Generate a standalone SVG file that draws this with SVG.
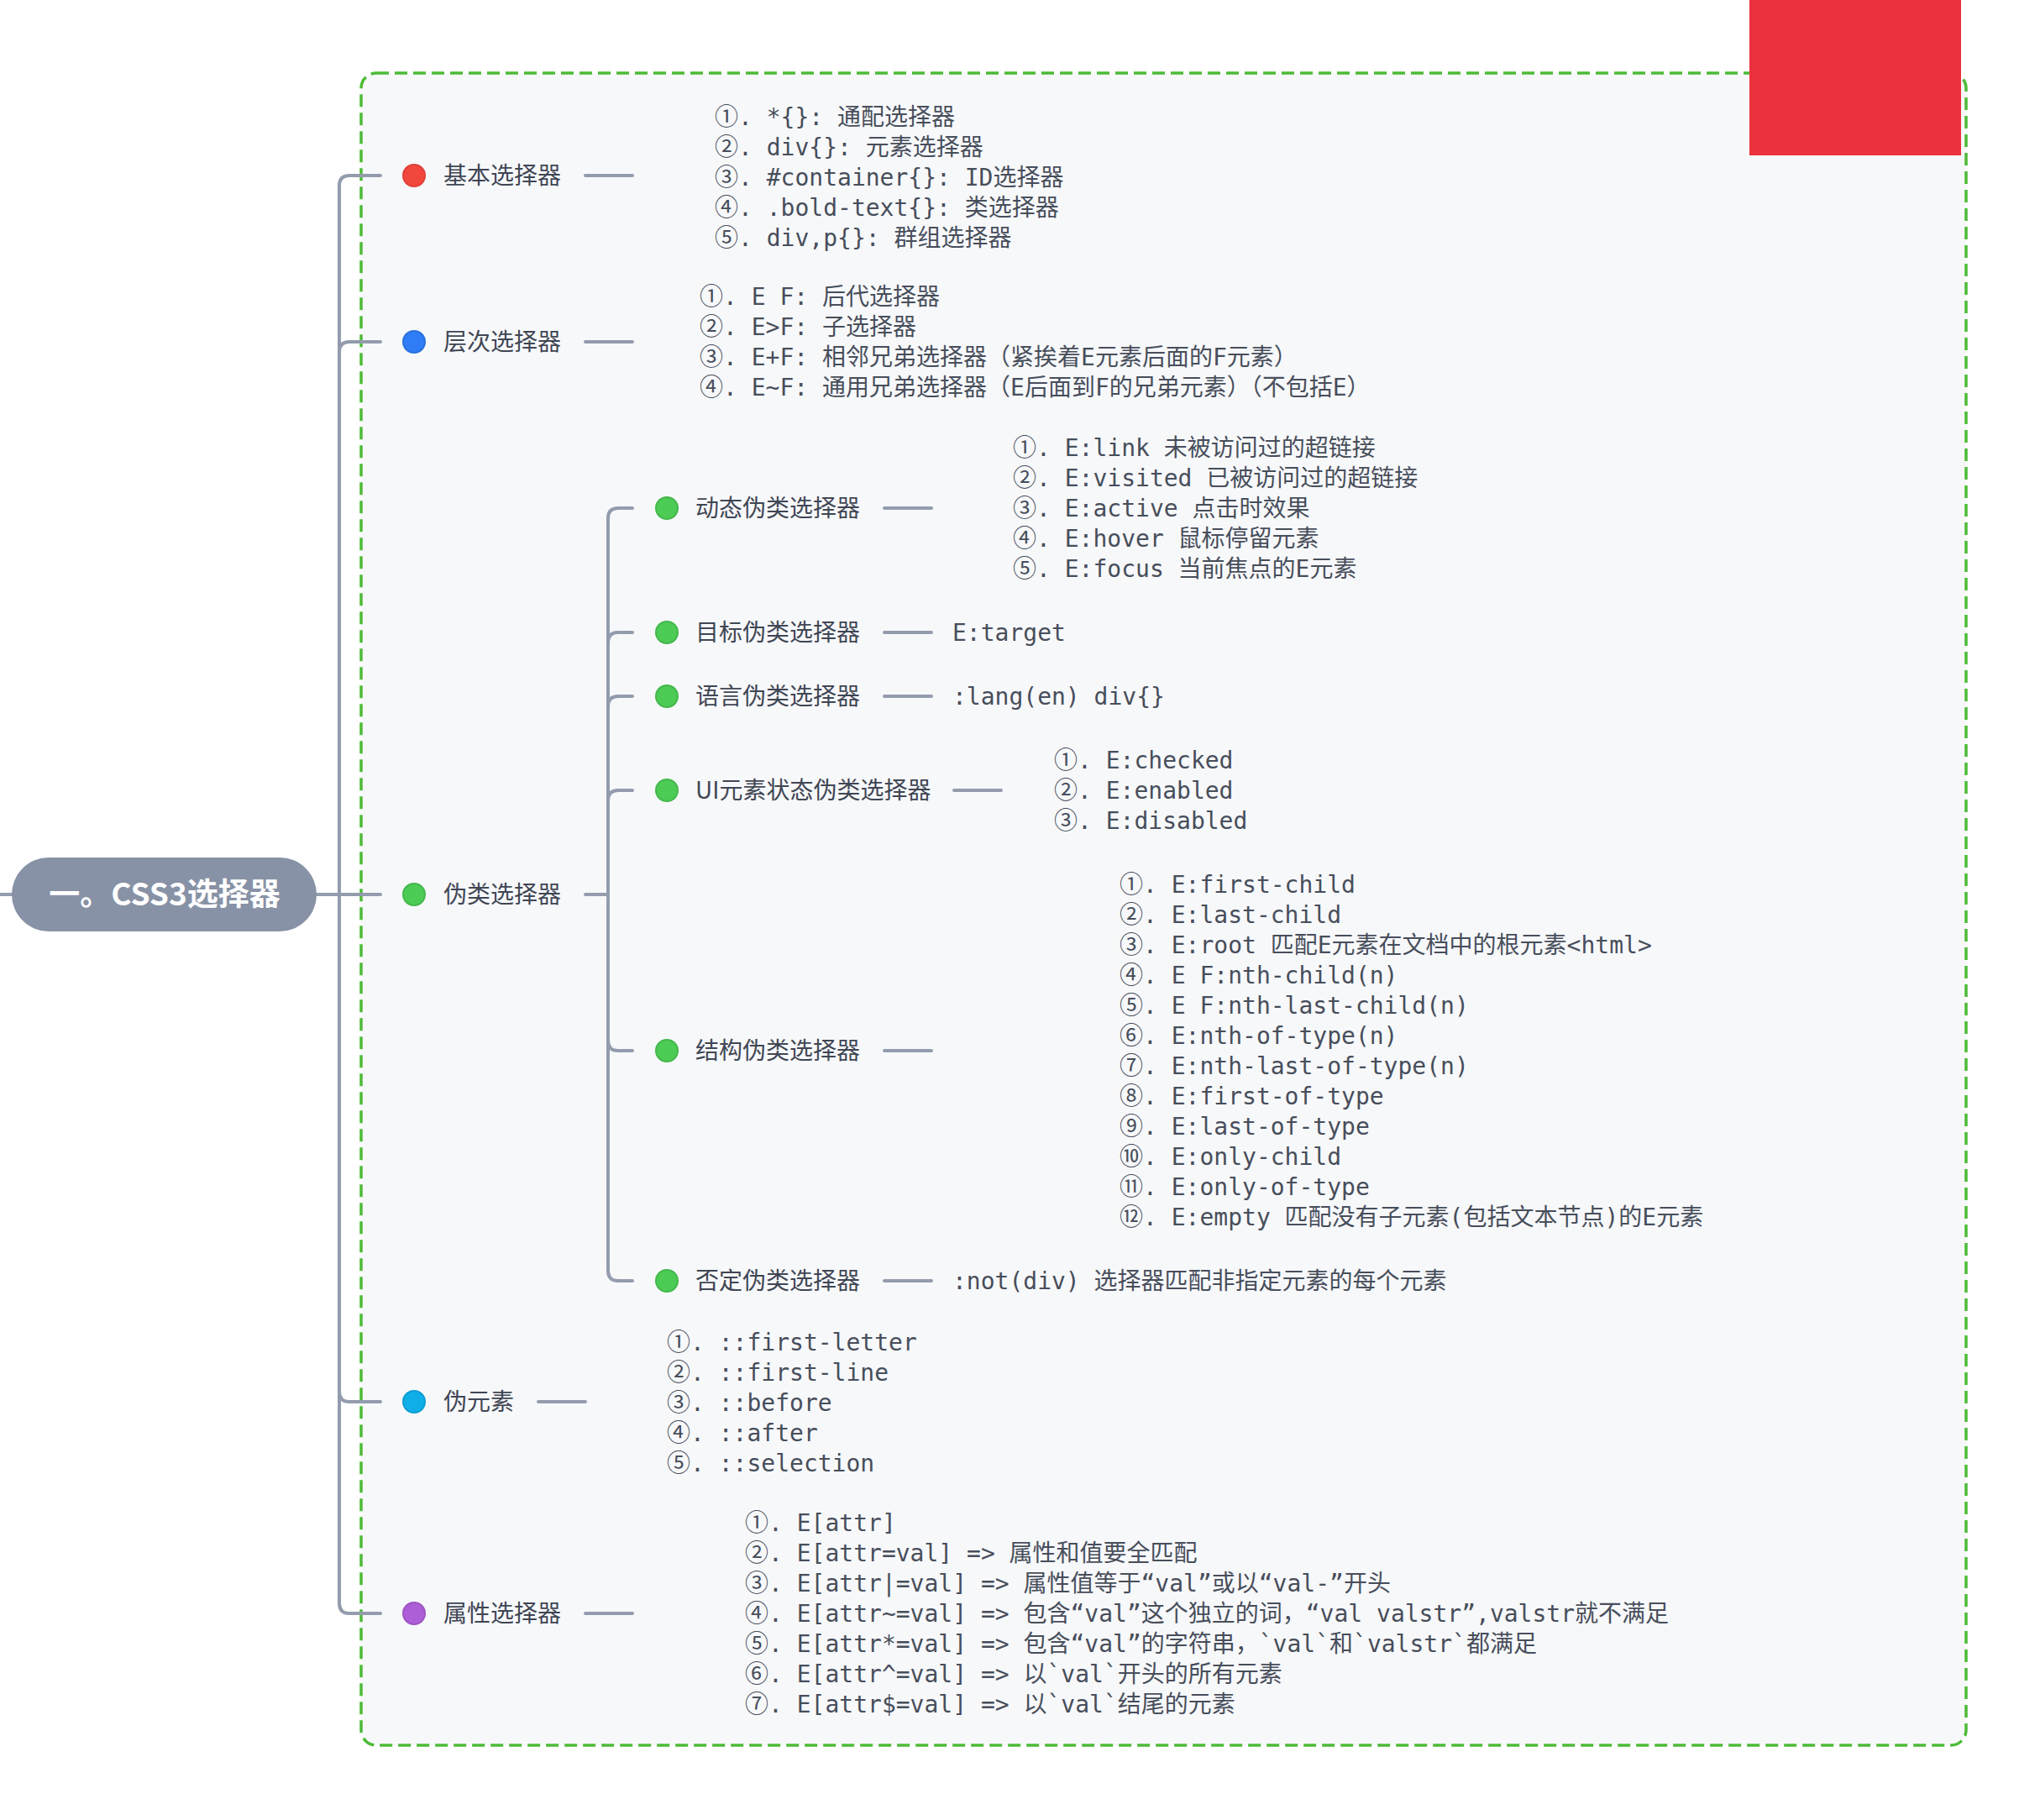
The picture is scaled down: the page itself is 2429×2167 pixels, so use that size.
<svg xmlns="http://www.w3.org/2000/svg" width="2429" height="2167" viewBox="0 0 2429 2167">
<style>
.bg{fill:#FFFFFF}
.box{fill:#F7F8FA;stroke:#4DBB37;stroke-width:3.5;stroke-dasharray:15 7}
.ln{fill:none;stroke:#939CAD;stroke-width:4;stroke-linecap:round;stroke-linejoin:round}
.lbl{font-family:"Noto Sans CJK SC","Noto Sans",sans-serif;font-size:28px;fill:#3F4654}
.it{font-family:"DejaVu Sans Mono","Noto Sans CJK SC",monospace;font-size:28px;fill:#474E5B}
.n{font-family:"Noto Sans CJK SC",sans-serif}
.root{fill:#8892A6}
.rt{font-family:"Noto Sans CJK SC","Noto Sans",sans-serif;font-size:37px;font-weight:bold;fill:#FFFFFF}
.red{fill:#F2473D;stroke:#E0403A;stroke-width:2}
.blue{fill:#2F7DF6;stroke:#2A70DD;stroke-width:2}
.green{fill:#4CCB55;stroke:#44B84C;stroke-width:2}
.cyan{fill:#0FAEE8;stroke:#0E9ED2;stroke-width:2}
.purple{fill:#AD5FD8;stroke:#9C55C3;stroke-width:2}
</style>
<rect class="bg" x="0" y="0" width="2429" height="2167"/>
<rect class="box" x="430" y="87" width="1911" height="1991" rx="18"/>

<g id="connectors">
<path class="ln" d="M0 1065 H14"/>
<path class="ln" d="M377 1065 H453"/>
<path class="ln" d="M453 209 H416 Q404 209 404 221 V1909 Q404 1921 416 1921 H453"/>
<path class="ln" d="M404 419 Q404 407 416 407 H453"/>
<path class="ln" d="M404 1657 Q404 1669 416 1669 H453"/>
<path class="ln" d="M697 209 H753"/>
<path class="ln" d="M697 407 H753"/>
<path class="ln" d="M697 1065 H724"/>
<path class="ln" d="M641 1669 H697"/>
<path class="ln" d="M697 1921 H753"/>
<path class="ln" d="M753 605 H736 Q724 605 724 617 V1513 Q724 1525 736 1525 H753"/>
<path class="ln" d="M724 765 Q724 753 736 753 H753"/>
<path class="ln" d="M724 841 Q724 829 736 829 H753"/>
<path class="ln" d="M724 953 Q724 941 736 941 H753"/>
<path class="ln" d="M724 1239 Q724 1251 736 1251 H753"/>
<path class="ln" d="M1053 605 H1109"/>
<path class="ln" d="M1053 753 H1109"/>
<path class="ln" d="M1053 829 H1109"/>
<path class="ln" d="M1136 941 H1192"/>
<path class="ln" d="M1053 1251 H1109"/>
<path class="ln" d="M1053 1525 H1109"/>
</g>

<g id="node-root">
<rect class="root" x="14" y="1021" width="363" height="88" rx="44"/>
<text class="rt" x="196" y="1078" text-anchor="middle">一。CSS3选择器</text>
</g>

<g id="node-basic">
<circle class="red" cx="493" cy="209" r="13"/>
<text class="lbl" x="528" y="219">基本选择器</text>
</g>
<g id="node-basic-items">
<text class="it"><tspan x="851" y="149"><tspan class="n">①</tspan>. *{}: 通配选择器</tspan><tspan x="851" y="185"><tspan class="n">②</tspan>. div{}: 元素选择器</tspan><tspan x="851" y="221"><tspan class="n">③</tspan>. #container{}: ID选择器</tspan><tspan x="851" y="257"><tspan class="n">④</tspan>. .bold-text{}: 类选择器</tspan><tspan x="851" y="293"><tspan class="n">⑤</tspan>. div,p{}: 群组选择器</tspan></text>
</g>

<g id="node-level">
<circle class="blue" cx="493" cy="407" r="13"/>
<text class="lbl" x="528" y="417">层次选择器</text>
</g>
<g id="node-level-items">
<text class="it"><tspan x="833" y="363"><tspan class="n">①</tspan>. E F: 后代选择器</tspan><tspan x="833" y="399"><tspan class="n">②</tspan>. E&gt;F: 子选择器</tspan><tspan x="833" y="435"><tspan class="n">③</tspan>. E+F: 相邻兄弟选择器（紧挨着E元素后面的F元素）</tspan><tspan x="833" y="471"><tspan class="n">④</tspan>. E~F: 通用兄弟选择器（E后面到F的兄弟元素）（不包括E）</tspan></text>
</g>

<g id="node-pseudo-class">
<circle class="green" cx="493" cy="1065" r="13"/>
<text class="lbl" x="528" y="1075">伪类选择器</text>
</g>

<g id="node-dynamic">
<circle class="green" cx="794" cy="605" r="13"/>
<text class="lbl" x="828" y="615">动态伪类选择器</text>
</g>
<g id="node-dynamic-items">
<text class="it"><tspan x="1206" y="543"><tspan class="n">①</tspan>. E:link 未被访问过的超链接</tspan><tspan x="1206" y="579"><tspan class="n">②</tspan>. E:visited 已被访问过的超链接</tspan><tspan x="1206" y="615"><tspan class="n">③</tspan>. E:active 点击时效果</tspan><tspan x="1206" y="651"><tspan class="n">④</tspan>. E:hover 鼠标停留元素</tspan><tspan x="1206" y="687"><tspan class="n">⑤</tspan>. E:focus 当前焦点的E元素</tspan></text>
</g>

<g id="node-target">
<circle class="green" cx="794" cy="753" r="13"/>
<text class="lbl" x="828" y="763">目标伪类选择器</text>
</g>
<g id="node-target-items">
<text class="it" x="1134" y="763">E:target</text>
</g>

<g id="node-lang">
<circle class="green" cx="794" cy="829" r="13"/>
<text class="lbl" x="828" y="839">语言伪类选择器</text>
</g>
<g id="node-lang-items">
<text class="it" x="1134" y="839">:lang(en) div{}</text>
</g>

<g id="node-ui">
<circle class="green" cx="794" cy="941" r="13"/>
<text class="lbl" x="828" y="951">UI元素状态伪类选择器</text>
</g>
<g id="node-ui-items">
<text class="it"><tspan x="1255" y="915"><tspan class="n">①</tspan>. E:checked</tspan><tspan x="1255" y="951"><tspan class="n">②</tspan>. E:enabled</tspan><tspan x="1255" y="987"><tspan class="n">③</tspan>. E:disabled</tspan></text>
</g>

<g id="node-structure">
<circle class="green" cx="794" cy="1251" r="13"/>
<text class="lbl" x="828" y="1261">结构伪类选择器</text>
</g>
<g id="node-structure-items">
<text class="it"><tspan x="1333" y="1063"><tspan class="n">①</tspan>. E:first-child</tspan><tspan x="1333" y="1099"><tspan class="n">②</tspan>. E:last-child</tspan><tspan x="1333" y="1135"><tspan class="n">③</tspan>. E:root 匹配E元素在文档中的根元素&lt;html&gt;</tspan><tspan x="1333" y="1171"><tspan class="n">④</tspan>. E F:nth-child(n)</tspan><tspan x="1333" y="1207"><tspan class="n">⑤</tspan>. E F:nth-last-child(n)</tspan><tspan x="1333" y="1243"><tspan class="n">⑥</tspan>. E:nth-of-type(n)</tspan><tspan x="1333" y="1279"><tspan class="n">⑦</tspan>. E:nth-last-of-type(n)</tspan><tspan x="1333" y="1315"><tspan class="n">⑧</tspan>. E:first-of-type</tspan><tspan x="1333" y="1351"><tspan class="n">⑨</tspan>. E:last-of-type</tspan><tspan x="1333" y="1387"><tspan class="n">⑩</tspan>. E:only-child</tspan><tspan x="1333" y="1423"><tspan class="n">⑪</tspan>. E:only-of-type</tspan><tspan x="1333" y="1459"><tspan class="n">⑫</tspan>. E:empty 匹配没有子元素(包括文本节点)的E元素</tspan></text>
</g>

<g id="node-not">
<circle class="green" cx="794" cy="1525" r="13"/>
<text class="lbl" x="828" y="1535">否定伪类选择器</text>
</g>
<g id="node-not-items">
<text class="it" x="1134" y="1535">:not(div) 选择器匹配非指定元素的每个元素</text>
</g>

<g id="node-pseudo-element">
<circle class="cyan" cx="493" cy="1669" r="13"/>
<text class="lbl" x="528" y="1679">伪元素</text>
</g>
<g id="node-pseudo-element-items">
<text class="it"><tspan x="794" y="1608"><tspan class="n">①</tspan>. ::first-letter</tspan><tspan x="794" y="1644"><tspan class="n">②</tspan>. ::first-line</tspan><tspan x="794" y="1680"><tspan class="n">③</tspan>. ::before</tspan><tspan x="794" y="1716"><tspan class="n">④</tspan>. ::after</tspan><tspan x="794" y="1752"><tspan class="n">⑤</tspan>. ::selection</tspan></text>
</g>

<g id="node-attr">
<circle class="purple" cx="493" cy="1921" r="13"/>
<text class="lbl" x="528" y="1931">属性选择器</text>
</g>
<g id="node-attr-items">
<text class="it"><tspan x="887" y="1823"><tspan class="n">①</tspan>. E[attr]</tspan><tspan x="887" y="1859"><tspan class="n">②</tspan>. E[attr=val] =&gt; 属性和值要全匹配</tspan><tspan x="887" y="1895"><tspan class="n">③</tspan>. E[attr|=val] =&gt; 属性值等于“val”或以“val-”开头</tspan><tspan x="887" y="1931"><tspan class="n">④</tspan>. E[attr~=val] =&gt; 包含“val”这个独立的词，“val valstr”,valstr就不满足</tspan><tspan x="887" y="1967"><tspan class="n">⑤</tspan>. E[attr*=val] =&gt; 包含“val”的字符串，`val`和`valstr`都满足</tspan><tspan x="887" y="2003"><tspan class="n">⑥</tspan>. E[attr^=val] =&gt; 以`val`开头的所有元素</tspan><tspan x="887" y="2039"><tspan class="n">⑦</tspan>. E[attr$=val] =&gt; 以`val`结尾的元素</tspan></text>
</g>

<rect x="2083" y="0" width="252" height="185" fill="#EC313E"/>
</svg>
